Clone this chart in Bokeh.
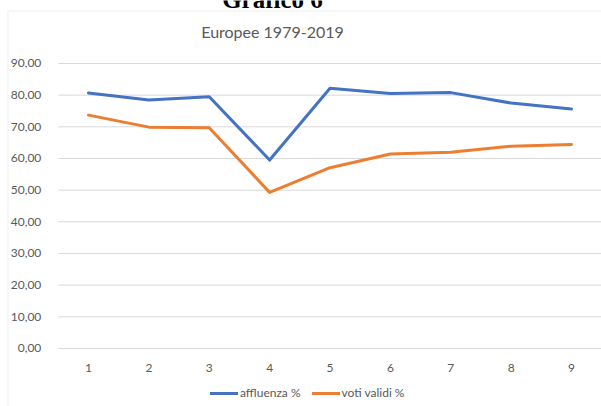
from bokeh.plotting import figure
from bokeh.models import (Range1d, FixedTicker, CustomJSTickFormatter, Legend, LegendItem,
                          Label, BoxAnnotation)
from bokeh.embed import file_html
from bokeh.resources import INLINE

# Data
categories = [1, 2, 3, 4, 5, 6, 7, 8, 9]
affluenza = [80.7, 78.5, 79.5, 59.5, 82.2, 80.5, 80.8, 77.5, 75.6]
voti_validi = [73.7, 69.9, 69.7, 49.3, 57.1, 61.4, 62.0, 63.9, 64.4]
y_ticks = [0, 10, 20, 30, 40, 50, 60, 70, 80, 90]
title_text = "Europee 1979-2019"
heading_text = "Grafico 6"
series_names = ["affluenza %", "voti validi %"]

FONT = "Lato"
GRAY = "#595959"
GRID = "#d9d9d9"

W, H = 601, 406
p = figure(width=W, height=H, output_backend="svg", toolbar_location=None,
           x_range=Range1d(-0.4576, 9.497), y_range=Range1d(-18.32, 109.89),
           min_border_left=0, min_border_right=0, min_border_top=0, min_border_bottom=0)

p.outline_line_color = None
p.background_fill_color = "white"
p.border_fill_color = "white"

# chart area border
p.add_layout(BoxAnnotation(left=7.5, right=W + 20, top=10.5, bottom=H + 20,
                           left_units="canvas", right_units="canvas",
                           top_units="canvas", bottom_units="canvas",
                           fill_alpha=0, line_color=GRID, line_width=1.5))

# headings
p.add_layout(Label(x=272, y=H + 1, x_units="screen", y_units="screen", text=heading_text,
                   text_font="Liberation Serif", text_font_style="bold", text_font_size="25px",
                   text_color="black", text_align="center", text_baseline="alphabetic"))
p.add_layout(Label(x=272, y=H - 31, x_units="screen", y_units="screen", text=title_text,
                   text_font=FONT, text_font_size="16px", text_color=GRAY,
                   text_align="center", text_baseline="alphabetic"))

# axes
p.xaxis.ticker = FixedTicker(ticks=categories)
p.xaxis.fixed_location = 0
p.yaxis.ticker = FixedTicker(ticks=y_ticks)
p.yaxis.fixed_location = categories[0] - 0.5
p.yaxis.formatter = CustomJSTickFormatter(code="return tick.toFixed(2).replace('.', ',');")
for ax in (p.xaxis, p.yaxis):
    ax.axis_line_color = None
    ax.major_tick_line_color = None
    ax.minor_tick_line_color = None
    ax.major_label_text_font = FONT
    ax.major_label_text_font_size = "12px"
    ax.major_label_text_color = GRAY
p.yaxis.major_label_standoff = 11
p.xaxis.major_label_standoff = 10

p.xgrid.grid_line_color = None
p.ygrid.grid_line_color = None

# horizontal gridlines across the plot area
p.segment(x0=categories[0] - 0.5, x1=categories[-1] + 0.5, y0=y_ticks, y1=y_ticks,
          line_color=GRID, line_width=1, level="underlay")

r1 = p.line(categories, affluenza, line_color="#4472C4", line_width=3, line_join="round", line_cap="round")
r2 = p.line(categories, voti_validi, line_color="#ED7D31", line_width=3, line_join="round", line_cap="round")

legend = Legend(items=[LegendItem(label=series_names[0], renderers=[r1]),
                       LegendItem(label=series_names[1], renderers=[r2])],
                orientation="horizontal", location=(210, 6),
                label_text_font=FONT, label_text_font_size="12px", label_text_color=GRAY,
                glyph_width=28, glyph_height=12, label_standoff=2, spacing=11,
                padding=0, margin=0, border_line_color=None, background_fill_alpha=0)
p.add_layout(legend, "center")

open("out.html", "w").write(file_html(p, INLINE))
